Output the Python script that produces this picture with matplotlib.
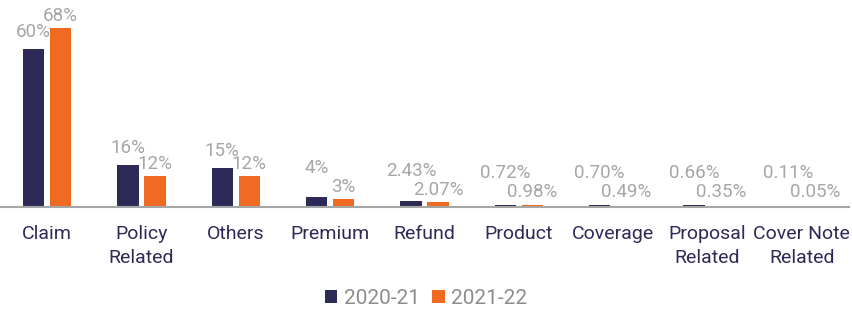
import matplotlib
matplotlib.use("Agg")
from matplotlib import pyplot as plt
import numpy as np

plt.rcParams['font.family'] = ['Roboto', 'DejaVu Sans']

categories = ["Claim", "Policy\nRelated", "Others", "Premium", "Refund",
              "Product", "Coverage", "Proposal\nRelated", "Cover Note\nRelated"]
fy2021 = [60, 16, 15, 4, 2.43, 0.72, 0.70, 0.66, 0.11]
fy2122 = [68, 12, 12, 3, 2.07, 0.98, 0.49, 0.35, 0.05]
labels2021 = ["60%", "16%", "15%", "4%", "2.43%", "0.72%", "0.70%", "0.66%", "0.11%"]
labels2122 = ["68%", "12%", "12%", "3%", "2.07%", "0.98%", "0.49%", "0.35%", "0.05%"]

navy = "#2e2a58"
orange = "#f06a22"
grey = "#a6a6a6"

fig = plt.figure(figsize=(8.52, 3.11), dpi=100)
ax = fig.add_axes([0.0, 0.334, 0.9965, 0.592])

x = np.arange(len(categories))
width = 0.225
off = 0.143
ax.bar(x - off, fy2021, width=width, color=navy, label="2020-21")
ax.bar(x + off, fy2122, width=width, color=orange, label="2021-22")

ax.set_xlim(-0.5, len(categories) - 0.5)
ax.set_ylim(0, 70)

# data labels, offsets in pixels with a floor so small bars stay readable
ppd = 0.592 * 311 / 70  # pixels per percent
for i in range(len(categories)):
    h1 = fy2021[i] * ppd
    h2 = fy2122[i] * ppd
    y2 = max(h2 + 12, 15)
    y1 = max(h1 + 17, 33)
    if h1 < 20:
        # keep the wide labels of small bars stacked apart
        y1 = max(y1, y2 + 19)
    ax.text(x[i] - off, y1 / ppd, labels2021[i], ha="center", va="center",
            color=grey, fontsize=13.5)
    ax.text(x[i] + off, y2 / ppd, labels2122[i], ha="center", va="center",
            color=grey, fontsize=13.5)

for s in ["top", "right", "left"]:
    ax.spines[s].set_visible(False)
ax.spines["bottom"].set_color(grey)
ax.spines["bottom"].set_linewidth(1.5)
ax.set_yticks([])
ax.set_xticks(x)
ax.set_xticklabels(categories, fontsize=14, color=navy, linespacing=1.45)
ax.tick_params(axis="x", length=0, pad=13)

leg = fig.legend(loc="lower center", bbox_to_anchor=(0.5, -0.05), ncol=2,
                 frameon=False, fontsize=15, handlelength=0.6, handleheight=0.6,
                 handletextpad=0.3, columnspacing=0.6)
for t in leg.get_texts():
    t.set_color("#8c8c8c")

fig.savefig("out.png", dpi=100)
